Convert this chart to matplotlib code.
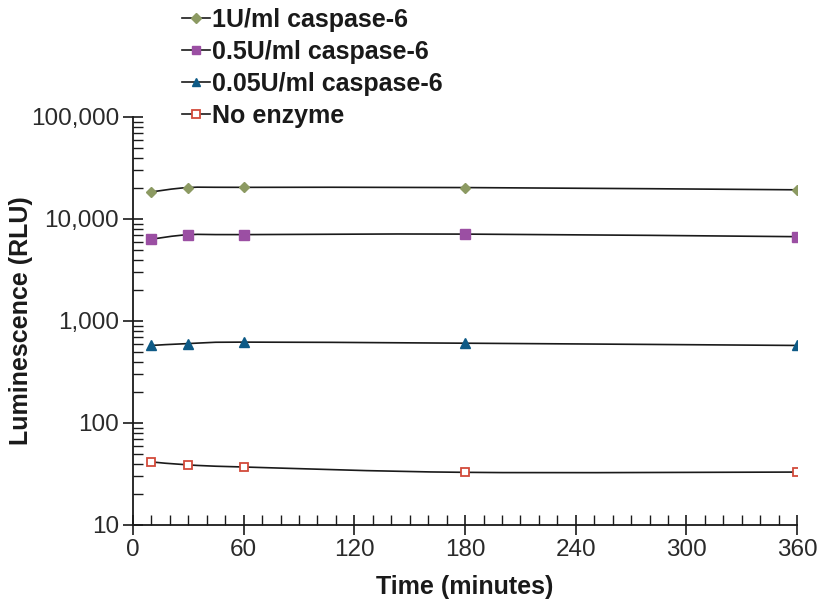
import matplotlib
matplotlib.use("Agg")
import matplotlib.pyplot as plt
import numpy as np
from matplotlib.path import Path
from matplotlib.patches import PathPatch
from matplotlib.ticker import FixedLocator, LogLocator, FuncFormatter, NullFormatter

# --- data ---
time_min = [10, 30, 60, 180, 360]
rlu_1u = [18400, 20300, 20400, 20300, 19300]
rlu_05u = [6330, 7000, 7020, 7100, 6700]
rlu_005u = [575, 600, 620, 605, 575]
rlu_none = [41.5, 38.8, 37.0, 32.8, 33.0]

labels = ["1U/ml caspase-6", "0.5U/ml caspase-6", "0.05U/ml caspase-6", "No enzyme"]
x_ticks = [0, 60, 120, 180, 240, 300, 360]

font = ["Liberation Sans", "DejaVu Sans"]
plt.rcParams["font.family"] = font


def smooth_path(x, y):
    # Catmull-Rom style bezier through the points (in log-y space), like a smoothed line
    lx = np.array(x, float)
    ly = np.log10(np.array(y, float))
    verts = [(lx[0], ly[0])]
    codes = [Path.MOVETO]
    n = len(lx)
    for i in range(n - 1):
        p0 = (lx[max(i - 1, 0)], ly[max(i - 1, 0)])
        p1 = (lx[i], ly[i])
        p2 = (lx[i + 1], ly[i + 1])
        p3 = (lx[min(i + 2, n - 1)], ly[min(i + 2, n - 1)])
        c1 = (p1[0] + (p2[0] - p0[0]) / 6, p1[1] + (p2[1] - p0[1]) / 6)
        c2 = (p2[0] - (p3[0] - p1[0]) / 6, p2[1] - (p3[1] - p1[1]) / 6)
        verts += [c1, c2, p2]
        codes += [Path.CURVE4] * 3
    verts = [(vx, 10 ** vy) for vx, vy in verts]
    return Path(verts, codes)


fig = plt.figure(figsize=(8.21, 6.09), dpi=100)
ax = fig.add_axes([0.162, 0.138, 0.809, 0.670])

series = [
    (rlu_1u, dict(marker="D", color="#8c9a62", mec="#8c9a62", ms=5.5)),
    (rlu_05u, dict(marker="s", color="#9b4fa3", mec="#9b4fa3", ms=6.5)),
    (rlu_005u, dict(marker="^", color="#0e5a86", mec="#0e5a86", ms=7)),
    (rlu_none, dict(marker="s", color="white", mec="#d24a3a", ms=6, mew=1.3)),
]

handles = []
for vals, st in series:
    patch = PathPatch(smooth_path(time_min, vals), facecolor="none", edgecolor="#1a1a1a",
                      lw=1.2, transform=ax.transData, zorder=2)
    ax.add_patch(patch)
    ax.plot(time_min, vals, ls="none", marker=st["marker"], mfc=st["color"], mec=st["mec"],
            ms=st["ms"], mew=st.get("mew", 1.0), zorder=3)
    h, = ax.plot([], [], color="#1a1a1a", lw=1.2, marker=st["marker"], mfc=st["color"],
                 mec=st["mec"], ms=st["ms"] * 0.9, mew=st.get("mew", 1.0))
    handles.append(h)

ax.set_yscale("log")
ax.set_ylim(10, 100000)
ax.set_xlim(0, 360)
ax.xaxis.set_major_locator(FixedLocator(x_ticks))
ax.xaxis.set_minor_locator(FixedLocator(np.arange(0, 361, 10)))
ax.yaxis.set_major_locator(LogLocator(base=10))
ax.yaxis.set_minor_locator(LogLocator(base=10, subs=np.arange(2, 10)))
ax.yaxis.set_major_formatter(FuncFormatter(lambda v, p: f"{int(round(v)):,}"))
ax.yaxis.set_minor_formatter(NullFormatter())

for s in ["top", "right"]:
    ax.spines[s].set_visible(False)
for s in ["left", "bottom"]:
    ax.spines[s].set_color("#1a1a1a")
    ax.spines[s].set_linewidth(1.3)

ax.tick_params(which="major", direction="inout", length=14, width=1.2, color="#1a1a1a",
               labelsize=17.5, labelcolor="#2a2a2a", pad=3)
ax.tick_params(which="minor", direction="in", length=7, width=1.0, color="#1a1a1a")

ax.set_xlabel("Time (minutes)", fontsize=18, fontweight="bold", labelpad=10, color="#1a1a1a")
ax.set_ylabel("Luminescence (RLU)", fontsize=18, fontweight="bold", color="#1a1a1a")
ax.yaxis.set_label_coords(-0.150, 0.5)

fig.legend(handles, labels, loc="upper left", bbox_to_anchor=(0.210, 1.004), frameon=False,
           prop=dict(family=font, weight="bold", size=18), handlelength=1.1,
           handletextpad=0.08, labelspacing=0.32, borderaxespad=0, labelcolor="#1a1a1a")

fig.savefig("out.png", dpi=100)
